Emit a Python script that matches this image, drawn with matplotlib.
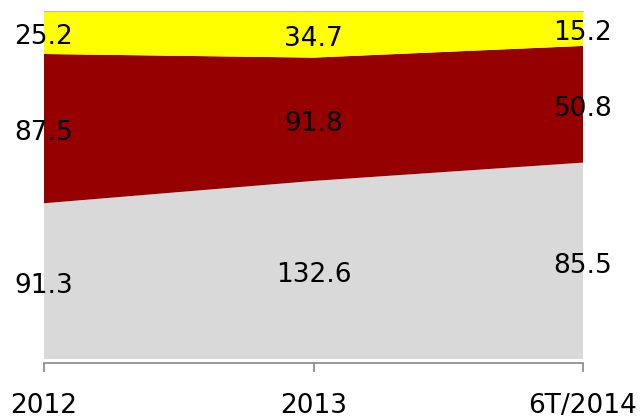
import matplotlib
matplotlib.use("Agg")
import matplotlib.pyplot as plt
import numpy as np

plt.rcParams.update({
    "font.family": ["DejaVu Sans"],
    "font.size": 19})

years = ['2012', '2013', '6T/2014']
gray_vals = [91.3, 132.6, 85.5]
red_vals = [87.5, 91.8, 50.8]
yellow_vals = [25.2, 34.7, 15.2]
colors = ['#D9D9D9', '#960000', '#FFFF00']


def draw_chart():
    fig = plt.figure(figsize=(6.41, 4.19), dpi=100)
    ax = fig.add_axes([44 / 641, (419 - 359) / 419, (583 - 44) / 641, (359 - 11) / 419])

    x = np.arange(len(years))
    series = np.array([gray_vals, red_vals, yellow_vals])
    totals = series.sum(axis=0)
    pct = series / totals * 100

    ax.stackplot(x, pct, colors=colors, linewidth=0)

    bottoms = np.zeros(len(years))
    for i in range(len(series)):
        for j in range(len(years)):
            ax.annotate('%.1f' % series[i][j], (x[j], bottoms[j] + pct[i][j] / 2),
                        xytext=(0, -3.5), textcoords='offset points',
                        ha='center', va='center', fontsize=19, color='black',
                        annotation_clip=False)
        bottoms += pct[i]

    ax.set_xlim(0, len(years) - 1)
    ax.set_ylim(0, 100)
    ax.set_xticks(x)
    ax.set_xticklabels(years)
    ax.set_yticks([])
    ax.tick_params(axis='x', direction='out', length=6.5, width=1.2, color='#888888', pad=15, labelsize=19)

    ax.spines['left'].set_visible(False)
    ax.spines['right'].set_visible(False)
    ax.spines['top'].set_color('#BBBBBB')
    ax.spines['bottom'].set_color('#888888')
    ax.spines['bottom'].set_linewidth(1.2)
    ax.spines['bottom'].set_position(('outward', 2.8))

    plt.savefig('out.png', dpi=100)


if __name__ == "__main__":
    draw_chart()
